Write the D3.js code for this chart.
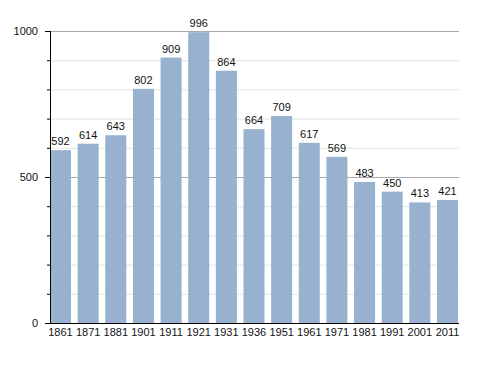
<!DOCTYPE html>
<html><head><meta charset="utf-8">
<script src="https://cdn.jsdelivr.net/npm/d3@7"></script>
<style>body{margin:0;background:#fff}svg{display:block}text{font-family:"Liberation Sans",Arial,sans-serif}</style>
</head><body>
<script>
const years = ["1861","1871","1881","1901","1911","1921","1931","1936","1951","1961","1971","1981","1991","2001","2011"];
const population = [592,614,643,802,909,996,864,664,709,617,569,483,450,413,421];
const majorTicks = [0,500,1000];
const minorTicks = [100,200,300,400,600,700,800,900];

const W=488,H=373;
const svg=d3.select("body").append("svg").attr("width",W).attr("height",H);
const x=d3.scaleBand().domain(years).range([50,458]).paddingInner(0.24).paddingOuter(0);
const y=d3.scaleLinear().domain([0,1000]).range([323,31]);

// minor gridlines
svg.append("g").selectAll("line").data(minorTicks).join("line")
  .attr("x1",50).attr("x2",459).attr("y1",d=>y(d)+0.5).attr("y2",d=>y(d)+0.5)
  .attr("stroke","#e4e4e4").attr("stroke-width",1);
// major gridlines
svg.append("g").selectAll("line").data(majorTicks.filter(d=>d>0)).join("line")
  .attr("x1",50).attr("x2",459).attr("y1",d=>y(d)+0.5).attr("y2",d=>y(d)+0.5)
  .attr("stroke","#a8a8a8").attr("stroke-width",1);

// bars
svg.append("g").selectAll("rect").data(population).join("rect")
  .attr("x",(d,i)=>x(years[i])).attr("width",x.bandwidth())
  .attr("y",d=>y(d)).attr("height",d=>y(0)-y(d))
  .attr("fill","#98b1cf");

// value labels
svg.append("g").selectAll("text").data(population).join("text")
  .attr("x",(d,i)=>x(years[i])+x.bandwidth()/2).attr("y",d=>y(d)-5)
  .attr("text-anchor","middle").attr("font-size",11).attr("fill","#111")
  .text(d=>d);

// y axis
const ya=svg.append("g");
ya.append("line").attr("x1",50.5).attr("x2",50.5).attr("y1",31).attr("y2",323).attr("stroke","#000");
ya.selectAll("line.mj").data(majorTicks).join("line").attr("class","mj")
  .attr("x1",45).attr("x2",50).attr("y1",d=>y(d)+0.5).attr("y2",d=>y(d)+0.5).attr("stroke","#000");
ya.selectAll("line.mn").data(minorTicks).join("line").attr("class","mn")
  .attr("x1",47).attr("x2",50).attr("y1",d=>y(d)+0.5).attr("y2",d=>y(d)+0.5).attr("stroke","#000");
ya.selectAll("text").data(majorTicks).join("text")
  .attr("x",38).attr("y",d=>y(d)+4).attr("text-anchor","end").attr("font-size",11).attr("fill","#111")
  .text(d=>d);

// x axis
svg.append("line").attr("x1",50).attr("x2",459).attr("y1",323.5).attr("y2",323.5).attr("stroke","#000");
svg.append("g").selectAll("text").data(years).join("text")
  .attr("x",d=>x(d)+x.bandwidth()/2).attr("y",336).attr("text-anchor","middle")
  .attr("font-size",11).attr("fill","#111").text(d=>d);
</script>
</body></html>
